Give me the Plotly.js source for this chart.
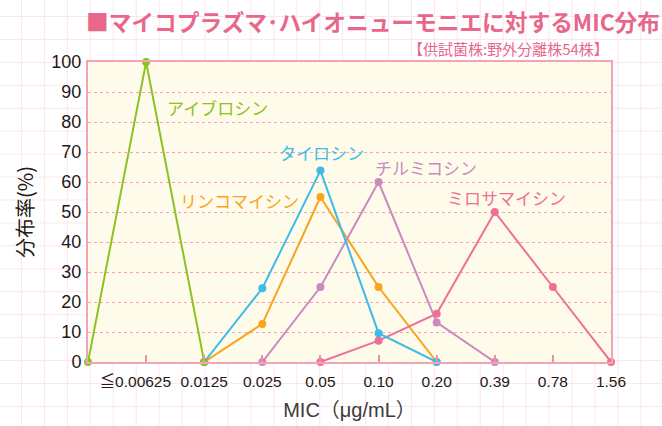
<!DOCTYPE html>
<html>
<head>
<meta charset="utf-8">
<script src="https://cdn.plot.ly/plotly-3.0.1.min.js"></script>
<style>
html,body{margin:0;padding:0;}
body{
  width:662px;height:426px;overflow:hidden;
  background-color:#ffffff;
  background-image:
    linear-gradient(90deg, #fbe6ed 1px, transparent 1px),
    linear-gradient(180deg, #fbe6ed 1px, transparent 1px);
  background-size:22.95px 22.95px;
  background-position:21px 16px;
}
#chart{width:662px;height:426px;}
</style>
</head>
<body>
<div id="chart"></div>
<script>
// Categories (x position index 0 is the unlabeled origin)
const categories = ['', '≦0.00625', '0.0125', '0.025', '0.05', '0.10', '0.20', '0.39', '0.78', '1.56'];
const xIndex = [0, 1, 2, 3, 4, 5, 6, 7, 8, 9];

// Distribution rate (%) per MIC category
const aivlosin    = [0, 100, 0, null, null, null, null, null, null, null];
const tylosin     = [null, null, 0, 24.6, 63.8, 9.6, 0, null, null, null];
const lincomycin  = [null, null, 0, 12.7, 55.0, 25.0, 0, null, null, null];
const tilmicosin  = [null, null, null, 0, 25.0, 60.0, 13.2, 0, null, null];
const mirosamicin = [null, null, null, null, 0, 7.1, 16.1, 50.0, 25.0, 0];

const names = {
  aivlosin: 'アイブロシン',
  tylosin: 'タイロシン',
  lincomycin: 'リンコマイシン',
  tilmicosin: 'チルミコシン',
  mirosamicin: 'ミロサマイシン'
};
const colors = {
  aivlosin: '#8cc221',
  tylosin: '#3fbbe8',
  lincomycin: '#f7a51e',
  tilmicosin: '#c98bbf',
  mirosamicin: '#ee6f98'
};
const yTicks = [0, 10, 20, 30, 40, 50, 60, 70, 80, 90, 100];

function mk(key, ys) {
  return {
    x: xIndex, y: ys, name: names[key], type: 'scatter', mode: 'lines+markers',
    line: {color: colors[key], width: 2},
    marker: {color: colors[key], size: 8},
    cliponaxis: false, showlegend: false, hoverinfo: 'x+y'
  };
}

const data = [
  mk('lincomycin', lincomycin),
  mk('tilmicosin', tilmicosin),
  mk('mirosamicin', mirosamicin),
  mk('tylosin', tylosin),
  mk('aivlosin', aivlosin)
];

// first label sits slightly left of its tick in the original
const xTickText = categories.slice(1).map((c, i) => i === 0 ? c + '\u00a0\u00a0\u00a0\u00a0\u00a0' : c);

const labelFont = 'Noto Sans CJK JP, sans-serif';
function lab(key, x, y) {
  return {x: x, y: y, xref: 'x', yref: 'y', text: names[key], showarrow: false,
    xanchor: 'center', yanchor: 'middle',
    font: {family: labelFont, size: 17, color: colors[key]}};
}

const layout = {
  width: 662, height: 426,
  margin: {l: 88, r: 51, t: 62, b: 64, pad: 0},
  paper_bgcolor: 'rgba(0,0,0,0)',
  plot_bgcolor: '#fefbea',
  font: {family: 'Liberation Sans, Arial, Noto Sans CJK JP, sans-serif', color: '#231815'},
  title: {
    text: '■マイコプラズマ･ハイオニューモニエに対するMIC分布',
    x: 86/662, xref: 'container', xanchor: 'left',
    y: 1 - 23/426, yref: 'container', yanchor: 'middle',
    font: {family: 'Noto Sans CJK JP, sans-serif', size: 22.7, color: '#e8678a', weight: 'bold'}
  },
  xaxis: {
    type: 'linear', range: [0, 9], tickvals: xIndex.slice(1), ticktext: xTickText,
    tickangle: 0,
    showgrid: false, zeroline: false,
    showline: true, mirror: true, linecolor: '#f1a3b7', linewidth: 2,
    ticks: 'inside', ticklen: 7, tickwidth: 2, tickcolor: '#ee8fa8',
    ticklabelstandoff: 4,
    tickfont: {size: 15.5, color: '#231815'},
    title: {text: 'MIC（μg/mL）', standoff: 14,
      font: {family: 'Liberation Sans, Arial, Noto Sans CJK JP, sans-serif', size: 20, color: '#3e3a39'}}
  },
  yaxis: {
    range: [0, 100], tickvals: yTicks,
    showgrid: true, gridcolor: '#f2a5b8', griddash: 'dot', gridwidth: 1,
    zeroline: false,
    showline: true, mirror: true, linecolor: '#f1a3b7', linewidth: 2,
    ticks: '', ticklen: 0, ticklabelstandoff: 1,
    tickfont: {size: 18, color: '#231815'},
    title: {text: '分布率(%)', standoff: 12,
      font: {family: 'Noto Sans CJK JP, sans-serif', size: 20, color: '#231815'}}
  },
  annotations: [
    {x: 1, y: 1 + 14/300, xref: 'paper', yref: 'paper', xanchor: 'right', yanchor: 'middle',
     text: '【供試菌株:野外分離株54株】', showarrow: false,
     font: {family: 'Noto Sans CJK JP, sans-serif', size: 15, color: '#e8678a'}},
    lab('aivlosin', 2.23, 84.7),
    lab('tylosin', 4.02, 69.7),
    lab('lincomycin', 2.6, 54),
    lab('tilmicosin', 5.81, 65),
    lab('mirosamicin', 7.2, 55)
  ]
};

Plotly.newPlot('chart', data, layout, {displayModeBar: false, staticPlot: true});
</script>
</body>
</html>
